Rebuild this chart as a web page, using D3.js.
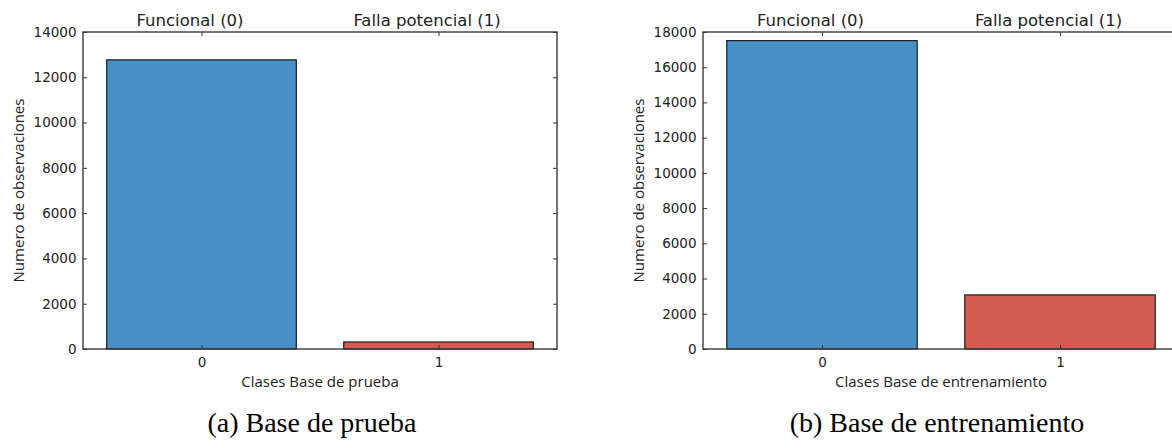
<!DOCTYPE html>
<html><head><meta charset="utf-8">
<script src="https://cdn.jsdelivr.net/npm/d3@7"></script>
<style>
html,body{margin:0;padding:0;background:#fff;}
svg{display:block;}
text{font-family:"DejaVu Sans",sans-serif;fill:#222;}
.lab{font-family:"Open Sans","DejaVu Sans",sans-serif;fill:#222;}
.cap{font-family:"Liberation Serif","DejaVu Serif",serif;fill:#000;}
</style></head>
<body>
<svg id="chart" width="1172" height="448"></svg>
<script>
const categories = [0, 1];
const categoryLabels = ["0", "1"];
const topLabels = ["Funcional (0)", "Falla potencial (1)"];
const pruebaValues = [12770, 310];
const entrenamientoValues = [17510, 3070];
const pruebaTicks = [0, 2000, 4000, 6000, 8000, 10000, 12000, 14000];
const entrenamientoTicks = [0, 2000, 4000, 6000, 8000, 10000, 12000, 14000, 16000, 18000];
const barColors = ["#4790c6", "#d45b4f"];
const yLabel = "Numero de observaciones";
const xLabels = ["Clases Base de prueba", "Clases Base de entrenamiento"];
const captions = ["(a) Base de prueba", "(b) Base de entrenamiento"];

const svg = d3.select("#chart");
const fmt = d3.format("d");

function panel(opts) {
  const {left, right, top, bottom, values, ticks, xLabel, caption, captionX} = opts;
  const g = svg.append("g");
  const x = d3.scaleLinear().domain([-0.5, 1.5]).range([left, right]);
  const y = d3.scaleLinear().domain([0, d3.max(ticks)]).range([bottom, top]);
  const bw = x(0.8) - x(0);

  g.selectAll("rect.bar").data(categories).join("rect")
    .attr("class", "bar")
    .attr("x", d => x(d) - bw / 2)
    .attr("width", bw)
    .attr("y", (d, i) => y(values[i]))
    .attr("height", (d, i) => y(0) - y(values[i]))
    .attr("fill", (d, i) => barColors[i])
    .attr("stroke", "#1a1a1a")
    .attr("stroke-width", 1.2);

  const yl = g.append("g").attr("transform", `translate(${left},0)`)
    .call(d3.axisLeft(y).tickValues(ticks).tickSizeInner(-4).tickSizeOuter(0).tickPadding(6.5).tickFormat(fmt));
  yl.select(".domain").remove();
  yl.selectAll("line").attr("stroke", "#333");
  yl.selectAll("text").attr("font-size", 13.5).attr("fill", "#222");

  const yr = g.append("g").attr("transform", `translate(${right},0)`)
    .call(d3.axisRight(y).tickValues(ticks).tickSizeInner(-4).tickSizeOuter(0).tickFormat(""));
  yr.select(".domain").remove();
  yr.selectAll("line").attr("stroke", "#333");

  const xb = g.append("g").attr("transform", `translate(0,${bottom})`)
    .call(d3.axisBottom(x).tickValues(categories).tickSizeInner(-4).tickSizeOuter(0).tickPadding(8)
      .tickFormat((d, i) => categoryLabels[i]));
  xb.select(".domain").remove();
  xb.selectAll("line").attr("stroke", "#333");
  xb.selectAll("text").attr("font-size", 13.5).attr("fill", "#222");

  const xt = g.append("g").attr("transform", `translate(0,${top})`)
    .call(d3.axisTop(x).tickValues(categories).tickSizeInner(-4).tickSizeOuter(0).tickPadding(6)
      .tickFormat((d, i) => topLabels[i]));
  xt.select(".domain").remove();
  xt.selectAll("line").attr("stroke", "#333");
  xt.selectAll("text").attr("font-size", 16.5).attr("fill", "#222").attr("dx", -12);

  g.append("rect").attr("x", left).attr("y", top).attr("width", right - left).attr("height", bottom - top)
    .attr("fill", "none").attr("stroke", "#3a3a3a").attr("stroke-width", 1.4);

  g.append("text").attr("class", "lab")
    .attr("transform", `translate(${left - 64.5},${(top + bottom) / 2}) rotate(-90)`)
    .attr("text-anchor", "middle").attr("dy", "0.35em").attr("font-size", 15).text(yLabel);
  g.append("text").attr("class", "lab").attr("x", (left + right) / 2).attr("y", 387).attr("text-anchor", "middle")
    .attr("font-size", 15).text(xLabel);
  g.append("text").attr("class", "cap").attr("x", captionX).attr("y", 432).attr("text-anchor", "middle")
    .attr("font-size", 28).text(caption);
}

panel({left: 83, right: 557, top: 32, bottom: 349, values: pruebaValues, ticks: pruebaTicks,
  xLabel: xLabels[0], caption: captions[0], captionX: 312});
panel({left: 703, right: 1179, top: 32, bottom: 349, values: entrenamientoValues, ticks: entrenamientoTicks,
  xLabel: xLabels[1], caption: captions[1], captionX: 937});
</script>
</body></html>
